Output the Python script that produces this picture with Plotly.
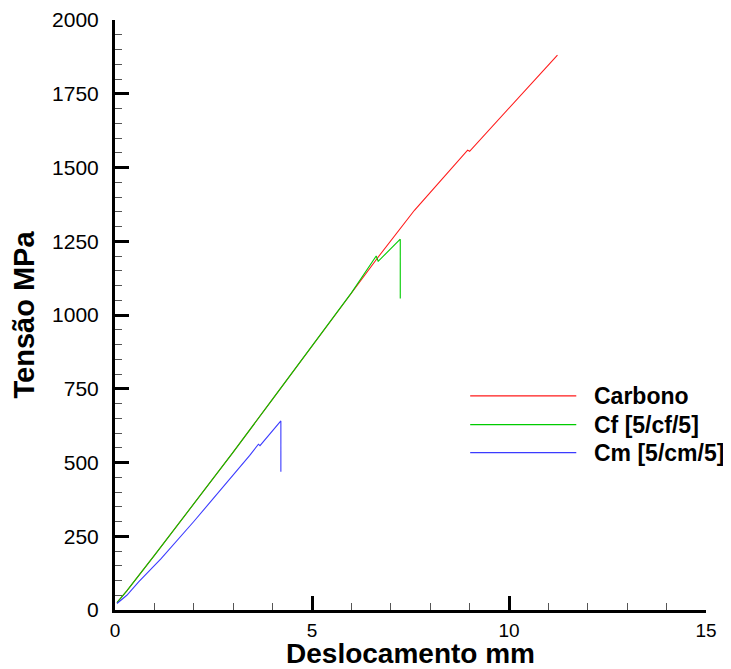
import plotly.graph_objects as go

# Data
carbono_x = [0.05, 0.3, 1.0, 2.0, 3.0, 4.0, 5.0, 6.0, 6.7, 7.6, 8.95, 9.0, 10.0, 11.23]
carbono_y = [25, 65, 185, 360, 535, 715, 895, 1075, 1200, 1355, 1559, 1555, 1700, 1881]

cf_x = [0.05, 0.3, 1.0, 2.0, 3.0, 4.0, 5.0, 6.0, 6.63, 6.68, 7.24, 7.24]
cf_y = [25, 65, 185, 360, 535, 715, 895, 1075, 1200, 1182, 1257, 1056]

cm_x = [0.05, 0.3, 0.6, 1.17, 2.0, 2.42, 3.0, 3.42, 3.64, 3.68, 4.21, 4.21]
cm_y = [22, 50, 95, 174, 300, 366, 455, 524, 562, 557, 641, 469]

series_names = ["Carbono", "Cf [5/cf/5]", "Cm [5/cm/5]"]
series_colors = ["#ff1a1a", "#00cc00", "#3b3bff"]

x_ticks = [0, 5, 10, 15]
y_ticks = [0, 250, 500, 750, 1000, 1250, 1500, 1750, 2000]

FONT = "Liberation Sans, Arial, sans-serif"

fig = go.Figure()
for xs, ys, name, col in zip([carbono_x, cf_x, cm_x], [carbono_y, cf_y, cm_y],
                             series_names, series_colors):
    fig.add_trace(go.Scatter(x=xs, y=ys, mode="lines", name=name,
                             line=dict(color=col, width=1.1), showlegend=False))

# Manual legend (long line samples as in the reference)
leg_y = [0.3628, 0.3143, 0.2668]
for ly, name, col in zip(leg_y, series_names, series_colors):
    fig.add_shape(type="line", xref="paper", yref="paper",
                  x0=0.601, x1=0.7805, y0=ly, y1=ly,
                  line=dict(color=col, width=1.2))
    fig.add_annotation(xref="paper", yref="paper", x=0.807, y=ly,
                       text="<b>%s</b>" % name, showarrow=False,
                       xanchor="left", yanchor="middle",
                       font=dict(family=FONT, size=23, color="black"))

axis_common = dict(
    showline=True, linecolor="black", linewidth=3,
    ticks="inside", ticklen=14, tickwidth=3, tickcolor="black",
    showgrid=False, zeroline=False, mirror=False, automargin=False,
)

fig.update_xaxes(range=[0, 15], tickvals=x_ticks, ticklabelstandoff=1,
                 tickfont=dict(family=FONT, size=19, color="black"),
                 minor=dict(ticks="inside", dtick=1, ticklen=7, tickwidth=1.2,
                            tickcolor="#555555", showgrid=False),
                 title=dict(text="<b>Deslocamento mm</b>", standoff=2,
                            font=dict(family=FONT, size=28, color="black")),
                 **axis_common)
fig.update_yaxes(range=[0, 2000], tickvals=y_ticks, ticklabelstandoff=9,
                 tickfont=dict(family=FONT, size=21, color="black"),
                 minor=dict(ticks="inside", dtick=50, ticklen=7, tickwidth=1.2,
                            tickcolor="#555555", showgrid=False),
                 title=dict(text="<b>Tensão MPa</b>", standoff=9,
                            font=dict(family=FONT, size=29, color="black")),
                 **axis_common)

# The page body keeps the browser's default 8px margin, so the figure is
# sized to fill the remaining 723x661 area of the 731x669 window.
fig.update_layout(
    width=723, height=661, autosize=False,
    margin=dict(l=107, r=25, t=12, b=59),
    plot_bgcolor="white", paper_bgcolor="white",
    showlegend=False,
)

fig.write_html("out.html")
